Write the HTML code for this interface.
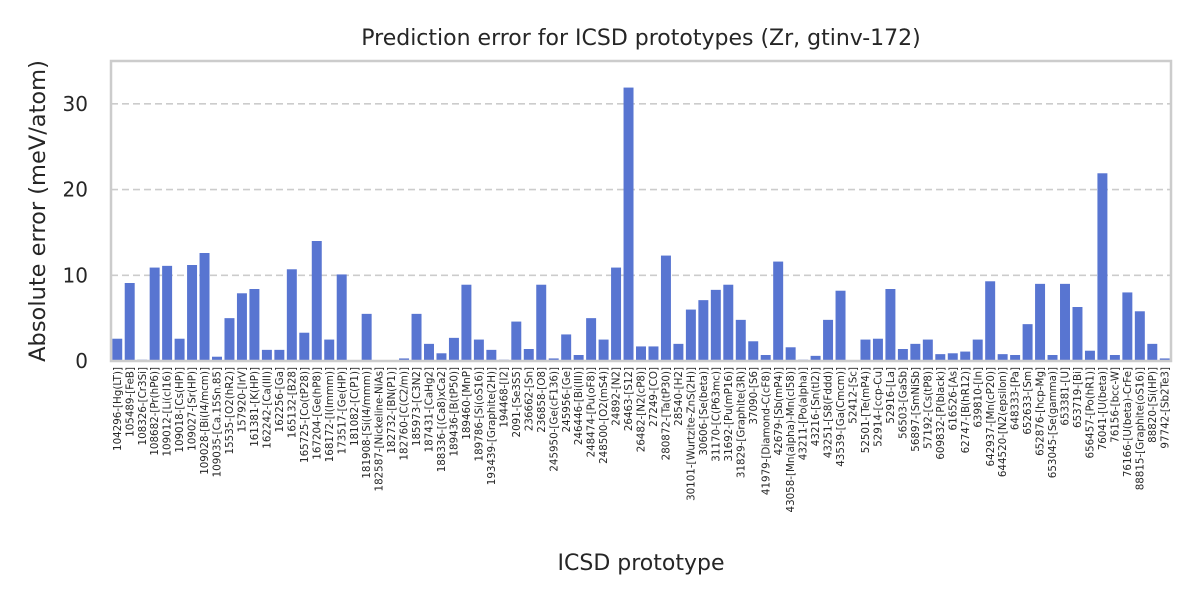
<!DOCTYPE html>
<html><head><meta charset="utf-8"><style>
body{margin:0;background:#fff;}
svg text{font-family:"DejaVu Sans","Liberation Sans",sans-serif;fill:#262626;}
</style></head><body>
<svg id="chart" width="1200" height="600" xmlns="http://www.w3.org/2000/svg">
<rect width="1200" height="600" fill="#fff"/>
<text x="641" y="45" font-size="22" text-anchor="middle">Prediction error for ICSD prototypes (Zr, gtinv-172)</text>
<text transform="translate(45,211) rotate(-90)" font-size="22.5" text-anchor="middle">Absolute error (meV/atom)</text>
<text x="641" y="570" font-size="22" text-anchor="middle">ICSD prototype</text>
<g id="grid"></g><g id="bars"></g><g id="yticks"></g><g id="xticks"></g>
<rect x="111" y="61" width="1060" height="300" fill="none" stroke="#cccccc" stroke-width="2.5"/>
</svg>
<script>
const categories=["104296-[Hg(LT)]","105489-[FeB]","108326-[Cr3Si]","108682-[Pr(hP6)]","109012-[Li(cI16)]","109018-[Cs(HP)]","109027-[Sr(HP)]","109028-[Bi(I4/mcm)]","109035-[Ca.15Sn.85]","15535-[O2(hR2)]","157920-[IrV]","161381-[K(HP)]","162242-[Ca(III)]","162256-[Ga]","165132-[B28]","165725-[Co(tP28)]","167204-[Ge(hP8)]","168172-[I(Immm)]","173517-[Ge(HP)]","181082-[C(P1)]","181908-[Si(I4/mmm)]","182587-[Nickeline-NiAs]","182732-[BN(P1)]","182760-[C(C2/m)]","185973-[C3N2]","187431-[CaHg2]","188336-[(Ca8)xCa2]","189436-[B(tP50)]","189460-[MnP]","189786-[Si(oS16)]","193439-[Graphite(2H)]","194468-[I2]","2091-[Se3S5]","236662-[Sn]","236858-[O8]","245950-[Ge(cF136)]","245956-[Ge]","246446-[Bi(III)]","248474-[Pu(oF8)]","248500-[O2(mS4)]","24892-[N2]","26463-[S12]","26482-[N2(cP8)]","27249-[CO]","280872-[Ta(tP30)]","28540-[H2]","30101-[Wurtzite-ZnS(2H)]","30606-[Se(beta)]","31170-[C(P63mc)]","31692-[Pu(mP16)]","31829-[Graphite(3R)]","37090-[S6]","41979-[Diamond-C(cF8)]","42679-[Sb(mP4)]","43058-[Mn(alpha)-Mn(cI58)]","43211-[Po(alpha)]","43216-[Sn(tI2)]","43251-[S8(Fddd)]","43539-[Ga(Cmcm)]","52412-[Sc]","52501-[Te(mP4)]","52914-[ccp-Cu]","52916-[La]","56503-[GaSb]","56897-[SmNiSb]","57192-[Cs(tP8)]","609832-[P(black)]","616526-[As]","62747-[B(hR12)]","639810-[In]","642937-[Mn(cP20)]","644520-[N2(epsilon)]","648333-[Pa]","652633-[Sm]","652876-[hcp-Mg]","653045-[Se(gamma)]","653381-[U]","653719-[Bi]","656457-[Po(hR1)]","76041-[U(beta)]","76156-[bcc-W]","76166-[U(beta)-CrFe]","88815-[Graphite(oS16)]","88820-[Si(HP)]","97742-[Sb2Te3]"];
const values=[2.6,9.1,0.15,10.9,11.1,2.6,11.2,12.6,0.5,5.0,7.9,8.4,1.3,1.3,10.7,3.3,14.0,2.5,10.1,0,5.5,0,0,0.3,5.5,2.0,0.9,2.7,8.9,2.5,1.3,0.15,4.6,1.4,8.9,0.3,3.1,0.7,5.0,2.5,10.9,31.9,1.7,1.7,12.3,2.0,6.0,7.1,8.3,8.9,4.8,2.3,0.7,11.6,1.6,0.15,0.6,4.8,8.2,0,2.5,2.6,8.4,1.4,2.0,2.5,0.8,0.9,1.1,2.5,9.3,0.8,0.7,4.3,9.0,0.7,9.0,6.3,1.2,21.9,0.7,8.0,5.8,2.0,0.3];
const yTicks=[0,10,20,30];
const X0=111,X1=1171,Y0=361,Y1=61,YMAX=35;
const step=(X1-X0)/categories.length;
const xc=i=>X0+(i+0.5)*step;
const y=v=>Y0-(v/YMAX)*(Y0-Y1);
const NS="http://www.w3.org/2000/svg";
const mk=(t,a)=>{const e=document.createElementNS(NS,t);for(const k in a)e.setAttribute(k,a[k]);return e;};
const grid=document.getElementById('grid'),yt=document.getElementById('yticks'),bars=document.getElementById('bars'),xt=document.getElementById('xticks');
yTicks.forEach(t=>{
  if(t>0){const l=mk('line',{x1:X0,x2:X1,y1:y(t),y2:y(t),stroke:'#cccccc','stroke-width':1.6,'stroke-dasharray':'7,4'});
  
  
  grid.appendChild(l);}
  const tx=mk('text',{x:88,y:y(t)+7,'font-size':20,'text-anchor':'end'});
  
  
  tx.textContent=t;yt.appendChild(tx);
});
const bw=step*0.8;
categories.forEach((c,i)=>{
  const v=values[i];
  const r=mk('rect',{x:xc(i)-bw/2,y:y(v),width:bw,height:Y0-y(v),fill:'#5875d1'});
  
  
  bars.appendChild(r);
  const tx=mk('text',{transform:`translate(${xc(i)+3.6},367) rotate(-90)`,'font-size':10.3,'text-anchor':'end'});
  
  
  tx.textContent=c;xt.appendChild(tx);
});
</script>
</body></html>
